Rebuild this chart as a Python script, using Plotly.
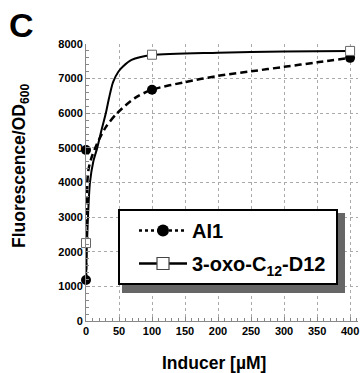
import plotly.graph_objects as go

# Measured points
ai1_x = [0, 0, 100, 400]
ai1_y = [1185, 4940, 6680, 7600]
oxo_x = [0, 100, 400]
oxo_y = [2250, 7690, 7800]

ai1_fit_x = [0, 0.5, 1, 2, 4, 8, 14, 20, 30, 47, 75, 100, 150, 200, 250, 300, 350, 400]
ai1_fit_y = [1150, 2500, 3300, 4000, 4400, 4700, 5000, 5250, 5600, 6000, 6450, 6680, 6900, 7080, 7210, 7340, 7470, 7600]
oxo_fit_x = [0, 1, 2, 3, 6, 11, 17, 24, 30, 35, 41, 49, 56, 69, 100, 200, 300, 400]
oxo_fit_y = [1100, 2000, 2500, 3000, 4000, 4600, 5000, 5550, 6000, 6450, 6900, 7200, 7350, 7540, 7680, 7750, 7780, 7800]

x_ticks = [0, 50, 100, 150, 200, 250, 300, 350, 400]
y_ticks = [0, 1000, 2000, 3000, 4000, 5000, 6000, 7000, 8000]

FONT = "Liberation Sans, Arial, Helvetica, sans-serif"

fig = go.Figure()
fig.add_trace(go.Scatter(x=ai1_fit_x, y=ai1_fit_y, mode="lines", showlegend=False,
                         line=dict(color="black", width=2.5, dash="7px,4px", shape="spline", smoothing=0.8),
                         hoverinfo="skip"))
fig.add_trace(go.Scatter(x=oxo_fit_x, y=oxo_fit_y, mode="lines", showlegend=False,
                         line=dict(color="black", width=2, shape="spline", smoothing=0.8),
                         hoverinfo="skip"))
fig.add_trace(go.Scatter(x=ai1_x, y=ai1_y, mode="markers", showlegend=False, cliponaxis=False,
                         marker=dict(symbol="circle", size=10, color="black")))
fig.add_trace(go.Scatter(x=oxo_x, y=oxo_y, mode="markers", showlegend=False, cliponaxis=False,
                         marker=dict(symbol="square", size=9, color="white", line=dict(color="#666", width=1))))
# legend entries
fig.add_trace(go.Scatter(x=[None], y=[None], mode="lines+markers", name="AI1", legendgroup="a",
                         line=dict(color="black", width=2.5, dash="dot"),
                         marker=dict(symbol="circle", size=12, color="black")))
fig.add_trace(go.Scatter(x=[None], y=[None], mode="lines+markers", name="3-oxo-C<sub>12</sub>-D12&nbsp;",
                         legendgroup="b",
                         line=dict(color="black", width=2.5),
                         marker=dict(symbol="square", size=12, color="white", line=dict(color="#444", width=1.2))))

W, H = 360, 373
L, T = 86, 44
R = W - 358
B = H - 321
pw, ph = W - L - R, H - T - B

def px(x):
    return (x - L) / pw

def py(y):
    return (H - B - y) / ph

fig.add_shape(type="rect", xref="paper", yref="paper",
              x0=px(122), x1=px(345), y0=py(293), y1=py(213),
              fillcolor="#666", line=dict(width=0), layer="above")

fig.update_layout(
    width=W, height=H,
    margin=dict(l=L, r=R, t=T, b=B),
    paper_bgcolor="white", plot_bgcolor="white",
    font=dict(family=FONT, color="black"),
    showlegend=True,
    legend=dict(x=px(118), y=py(209), xanchor="left", yanchor="top",
                bgcolor="white", bordercolor="black", borderwidth=2,
                font=dict(size=20, family=FONT, weight="bold"),
                itemwidth=48, indentation=14, traceorder="grouped", tracegroupgap=4),
    xaxis=dict(range=[0, 412], tickvals=x_ticks, ticktext=[str(v) for v in x_ticks],
               showgrid=True, gridcolor="#aaa", griddash="dot", gridwidth=1,
               showline=True, linecolor="#888", linewidth=1,
               ticks="inside", ticklen=4, tickcolor="#888",
               minor=dict(dtick=10, ticks="inside", ticklen=3, tickcolor="#888", showgrid=False),
               tickfont=dict(size=11, family=FONT, weight="bold"), zeroline=False),
    yaxis=dict(range=[0, 8000], tickvals=y_ticks, ticktext=[str(v) for v in y_ticks],
               showgrid=True, gridcolor="#aaa", griddash="dot", gridwidth=1,
               showline=True, linecolor="#888", linewidth=1,
               ticks="inside", ticklen=4, tickcolor="#888",
               minor=dict(dtick=200, ticks="inside", ticklen=3, tickcolor="#888", showgrid=False),
               tickfont=dict(size=11, family=FONT, weight="bold"), zeroline=False),
    annotations=[
        dict(text="<b>C</b>", xref="paper", yref="paper", x=px(21), y=py(25), showarrow=False,
             font=dict(size=34, family=FONT), xanchor="center", yanchor="middle"),
        dict(text="<b>Fluorescence/OD<sub>600</sub></b>", xref="paper", yref="paper",
             x=px(20), y=py(166), textangle=-90, showarrow=False,
             font=dict(size=17.5, family=FONT), xanchor="center", yanchor="middle"),
        dict(text="<b>Inducer [µM]</b>", xref="paper", yref="paper",
             x=px(214), y=py(363), showarrow=False,
             font=dict(size=17.5, family=FONT), xanchor="center", yanchor="middle"),
    ],
)

fig.write_html("out.html", config={"displayModeBar": False},
               post_script="document.body.style.margin='0';document.documentElement.style.overflow='hidden';")
